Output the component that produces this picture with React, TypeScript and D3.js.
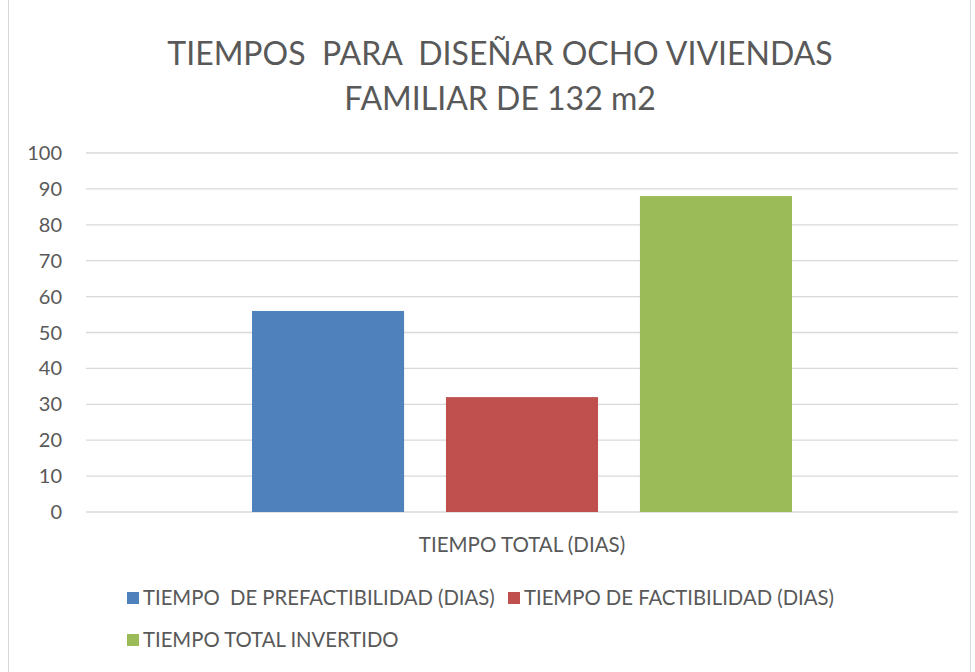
import * as d3 from 'd3';

// chart data
const categories = ['TIEMPO TOTAL (DIAS)'];
const seriesNames = [
  'TIEMPO  DE PREFACTIBILIDAD (DIAS)',
  'TIEMPO DE FACTIBILIDAD (DIAS)',
  'TIEMPO TOTAL INVERTIDO',
];
const seriesValues = [56, 32, 88];
const seriesColors = ['#4f81bd', '#c0504d', '#9bbb59'];
const yTicks = [0, 10, 20, 30, 40, 50, 60, 70, 80, 90, 100];
const titleLines = ['TIEMPOS  PARA  DISEÑAR OCHO VIVIENDAS', 'FAMILIAR DE 132 m2'];

const W = 975;
const H = 672;
const FONT = 'Lato, "Open Sans", sans-serif';
const TEXT = '#595959';

export default function App() {
  const plot = { left: 86, right: 958, top: 153, bottom: 512 };

  const y = d3.scaleLinear().domain([0, 100]).range([plot.bottom, plot.top]);
  const xCat = d3.scaleBand<string>().domain(categories).range([plot.left, plot.right]).paddingInner(0).paddingOuter(0);
  // bars occupy the middle of the category band
  const groupPad = 166;
  const xSeries = d3
    .scaleBand<string>()
    .domain(seriesNames)
    .range([groupPad, xCat.bandwidth() - groupPad])
    .paddingInner(0.216)
    .paddingOuter(0);

  // legend layout: [series index, x, row]
  const legendItems = [
    { i: 0, x: 127, row: 0 },
    { i: 1, x: 508, row: 0 },
    { i: 2, x: 127, row: 1 },
  ];

  return (
    <svg width={W} height={H} style={{ position: 'absolute', left: 0, top: 0, display: 'block' }}>
      <rect x={0} y={0} width={W} height={H} fill="#fff" />
      <rect x={8.5} y={-1} width={962} height={H + 2} fill="none" stroke="#d9d9d9" strokeWidth={1} />

      {titleLines.map((t, i) => (
        <text
          key={t}
          x={500}
          y={65 + i * 45}
          textAnchor="middle"
          fontFamily={FONT}
          fontSize={32}
          fill={TEXT}
          style={{ whiteSpace: 'pre' }}
        >
          {t}
        </text>
      ))}

      {/* gridlines + y labels */}
      {yTicks.map(t => (
        <g key={t}>
          <line x1={plot.left} x2={plot.right} y1={y(t)} y2={y(t)} stroke="#d9d9d9" strokeWidth={1.3} />
          <text x={62} y={y(t)} dy="0.35em" textAnchor="end" fontFamily={FONT} fontSize={20} fill={TEXT}>
            {t}
          </text>
        </g>
      ))}

      {/* bars */}
      {categories.map(c => (
        <g key={c} transform={`translate(${xCat(c)},0)`}>
          {seriesNames.map((s, i) => (
            <rect
              key={s}
              x={xSeries(s)}
              y={y(seriesValues[i])}
              width={xSeries.bandwidth()}
              height={y(0) - y(seriesValues[i])}
              fill={seriesColors[i]}
            />
          ))}
          <text
            x={xCat.bandwidth() / 2}
            y={545}
            dy="0.35em"
            textAnchor="middle"
            fontFamily={FONT}
            fontSize={20.5}
            fill={TEXT}
          >
            {c}
          </text>
        </g>
      ))}

      {/* legend */}
      {legendItems.map(({ i, x, row }) => (
        <g key={i} transform={`translate(${x},${598 + row * 42})`}>
          <rect x={0} y={-6} width={12} height={12} fill={seriesColors[i]} />
          <text x={16} y={0} dy="0.35em" fontFamily={FONT} fontSize={20.3} fill={TEXT} style={{ whiteSpace: 'pre' }}>
            {seriesNames[i]}
          </text>
        </g>
      ))}
    </svg>
  );
}
